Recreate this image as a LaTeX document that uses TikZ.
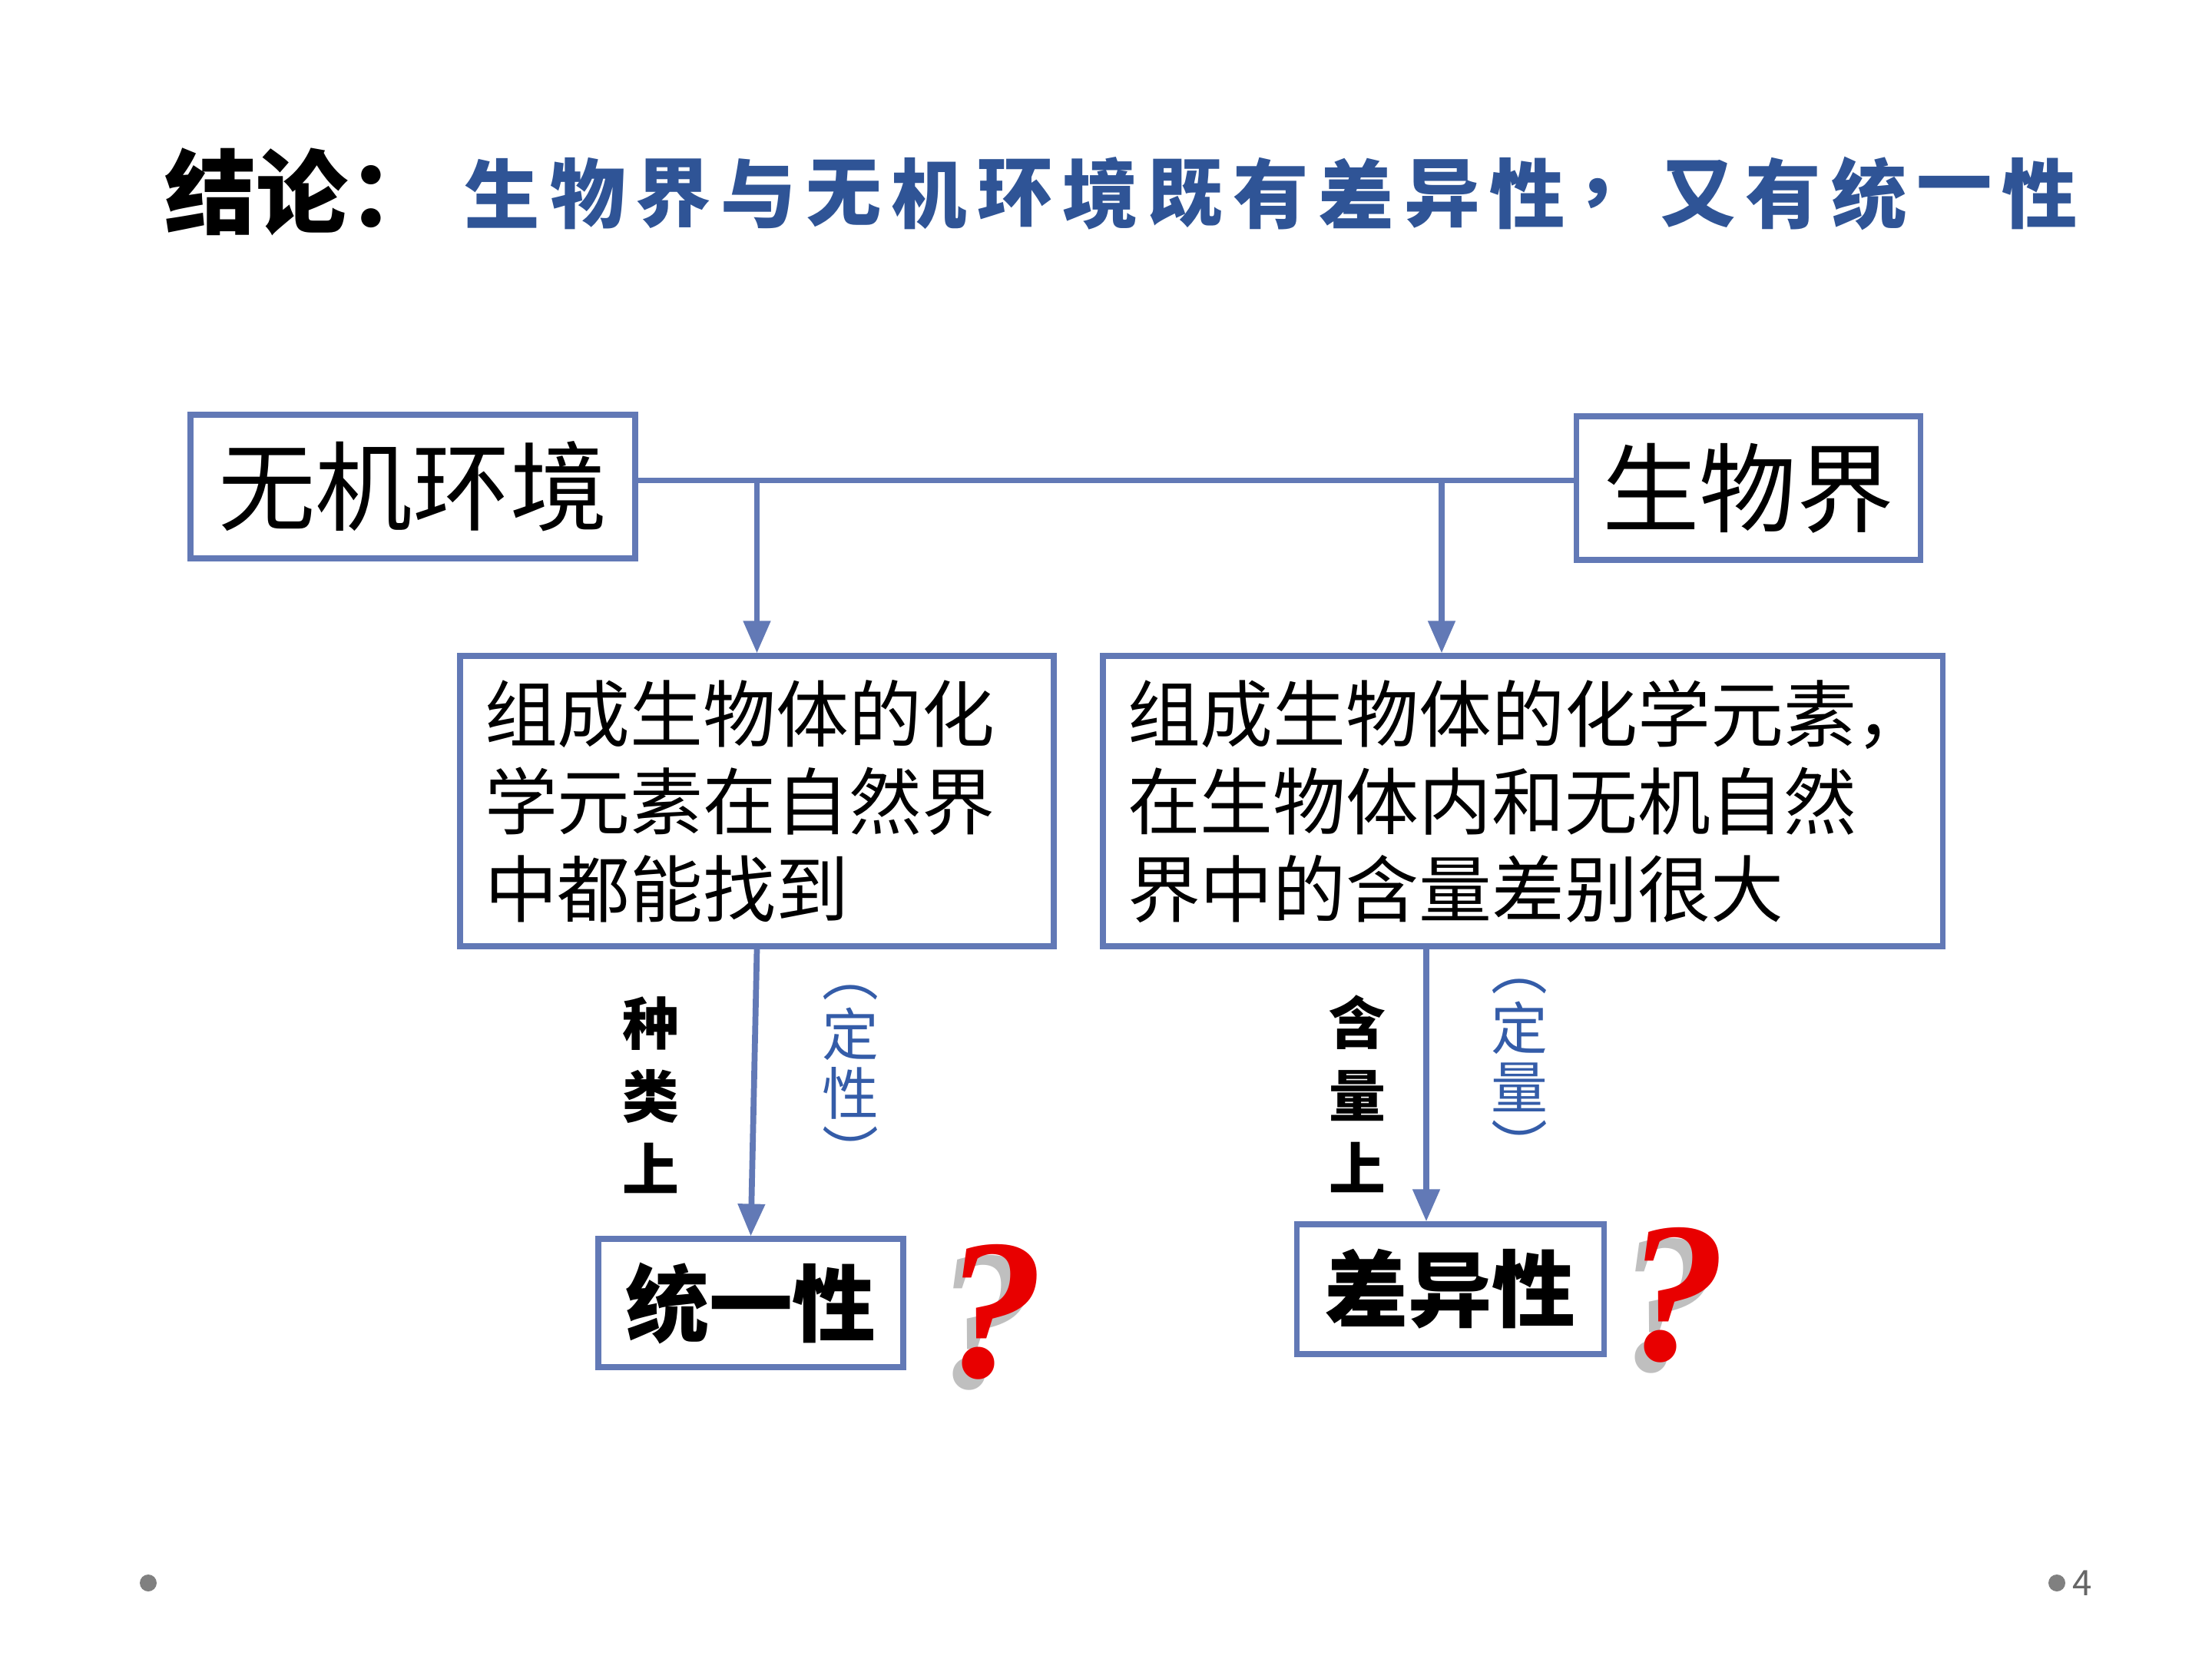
\documentclass[tikz,border=0pt]{standalone}
\usepackage{fontspec}
\newfontfamily\cjk{Noto Sans CJK SC}
\newfontfamily\qfont{Liberation Serif}
\usepackage{tikz}
\usetikzlibrary{
  arrows.meta,%
  positioning,%
  calc
}
\definecolor{boxblue}{RGB}{98,121,182}
\definecolor{titleblue}{RGB}{47,84,150}
\definecolor{labelblue}{RGB}{52,92,168}
\definecolor{qred}{RGB}{232,0,0}
\tikzset{>={Triangle[length=0.42cm, width=0.34cm]}}
\tikzset{font=\cjk}
\tikzset{
  box/.style={draw=boxblue, line width=2pt, fill=white, inner sep=0pt},
  bigbox/.style={box, font=\cjk\fontsize{36}{40}\selectfont},
  textbox/.style={box, font=\cjk\fontsize{27}{32.4}\selectfont, align=left,
    inner xsep=0.32cm},
  resultbox/.style={box, font=\cjk\bfseries\fontsize{31}{34}\selectfont},
  link/.style={draw=boxblue, line width=2.2pt},
  vlabel/.style={font=\cjk\bfseries\fontsize{21}{27}\selectfont, align=center},
  qlabel/.style={font=\cjk\fontsize{21}{22}\selectfont, text=labelblue,
    align=center},
  titlechar/.style={font=\cjk\bfseries\fontsize{28}{28}\selectfont,
    text=titleblue},
  qmark/.style={font=\qfont\bfseries\itshape\fontsize{74}{74}\selectfont}
}
\begin{document}
\begin{tikzpicture}
  \useasboundingbox (0,0) rectangle (28.8,-21.6);%
  % title
  \node[anchor=west, font=\cjk\bfseries\fontsize{34}{34}\selectfont] (concl) at (2.02,-2.5) {结论：};%
  \foreach \ch [count=\i from 0] in {生,物,界,与,无,机,环,境,既,有,差,异,性,，,又,有,统,一,性}
    \node[titlechar] (t\i) at ({6.54+1.112*\i}, -2.52) {\ch};%
  % boxes
  \node[bigbox, minimum width=5.79cm, minimum height=1.87cm] (inorg) at (5.375,-6.335) {无机环境};%
  \node[bigbox, minimum width=4.48cm, minimum height=1.87cm] (bio) at (22.76,-6.355) {生物界};%
  \node[textbox, text width=7.09cm, minimum height=3.78cm] (kindbox) at (9.855,-10.43)
    {组成生物体的化\\学元素在自然界\\中都能找到};%
  \node[textbox, text width=10.29cm, minimum height=3.78cm] (amountbox) at (19.825,-10.43)
    {组成生物体的化学元素，\\在生物体内和无机自然\\界中的含量差别很大};%
  \node[resultbox, minimum width=3.97cm, minimum height=1.67cm] (unity) at (9.775,-16.965) {统一性};%
  \node[resultbox, minimum width=4.0cm, minimum height=1.69cm] (diff) at (18.88,-16.785) {差异性};%
  % connectors
  \coordinate (h1) at ($(inorg.east)+(0,0.08)$);%
  \coordinate (j1) at (h1 -| kindbox.north);%
  \coordinate (j2) at (18.77,-6.25);%
  \coordinate (d2) at (18.57,-12.32);%
  \draw[link] (h1) -- (h1 -| bio.west);%
  \draw[link, ->] (j1) -- (kindbox.north);%
  \draw[link, ->] (j2) -- (j2 |- amountbox.north);%
  \draw[link, ->] (kindbox.south) -- (unity.north);%
  \draw[link, ->] (amountbox.south -| d2) -- (diff.north -| d2);%
  % side labels
  \node[vlabel] (kind) at (8.47,-14.26) {种\\类\\上};%
  \node[qlabel] (qual) at (11.07,-14.06) {︵\\定\\性\\︶};%
  \node[vlabel] (amount) at (17.67,-14.24) {含\\量\\上};%
  \node[qlabel] (quant) at (19.78,-13.98) {︵\\定\\量\\︶};%
  % question marks
  \foreach \q/\x/\y in {q1/12.95/-17.08, q2/21.82/-16.86} {
    \node[qmark, text=black, opacity=0.25] (\q s) at (\x-0.12,\y-0.14) {?};
    \node[qmark, text=qred] (\q) at (\x,\y) {?};
  }
  % footer
  \fill[gray] (1.93,-20.61) circle (0.11) coordinate (dotl);%
  \fill[gray] (26.78,-20.61) circle (0.11) coordinate (dotr);%
  \node[right=0.2cm of dotr, font=\cjk\fontsize{13}{13}\selectfont, text=gray!80!black, inner sep=0pt] (pagenum) {4};%
\end{tikzpicture}
\end{document}
